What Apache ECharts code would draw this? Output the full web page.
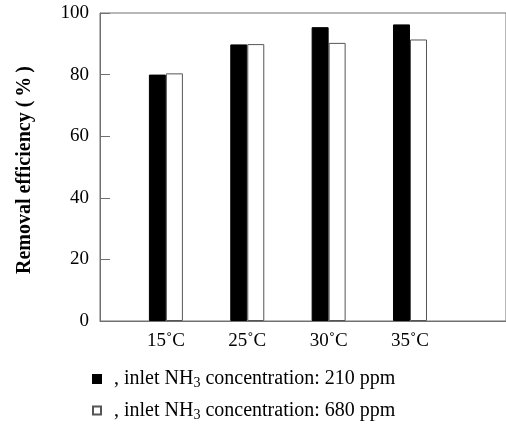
<!DOCTYPE html>
<html>
<head>
<meta charset="utf-8">
<script src="https://cdn.jsdelivr.net/npm/echarts@6/dist/echarts.min.js"></script>
<style>
  html, body { margin: 0; padding: 0; background: #fff; }
  #chart { width: 506px; height: 428px; }
</style>
</head>
<body>
<div id="chart"></div>
<script>
// temperatures on the x axis
const categories = ['15˚C', '25˚C', '30˚C', '35˚C']
// removal efficiency (%)
const low = [80.0, 89.8, 95.4, 96.3]   // inlet NH3 210 ppm
const high = [80.4, 89.9, 90.3, 91.4]  // inlet NH3 680 ppm
const yTicks = [0, 20, 40, 60, 80, 100]

const positions = categories.map((c, i) => i + 1)
const font = 'Liberation Serif'

const chart = echarts.init(document.getElementById('chart'))

const legendRich = {
  a: { fontFamily: font, fontSize: 20, color: '#000' },
  s: { fontFamily: font, fontSize: 14, color: '#000', padding: [9, 0, 0, 0] },
}

chart.setOption({
  animation: false,
  grid: {
    left: 100,
    right: -2,
    top: 13,
    bottom: 107,
    show: true,
    borderColor: '#707070',
    borderWidth: 1,
  },
  legend: {
    orient: 'vertical',
    left: 92,
    top: 368,
    padding: 0,
    itemWidth: 8,
    itemHeight: 8,
    itemGap: 9,
    icon: 'rect',
    data: ['210 ppm', '680 ppm'],
    textStyle: { lineHeight: 22, padding: [0, 0, 0, 8], rich: legendRich },
    formatter: (name) => '{a|, inlet NH}{s|3}{a| concentration: ' + name + '}',
  },
  xAxis: {
    type: 'value',
    min: 0.19,
    max: 5.18,
    splitLine: { show: false },
    axisLine: { show: true, lineStyle: { color: '#707070' } },
    axisTick: { show: false },
    axisLabel: {
      customValues: positions,
      formatter: (v) => categories[Math.round(v) - 1] || '',
      fontFamily: font,
      fontSize: 19,
      color: '#000',
      margin: 11,
    },
  },
  yAxis: {
    type: 'value',
    min: yTicks[0],
    max: yTicks[yTicks.length - 1],
    interval: 20,
    name: 'Removal efficiency (\u2009%\u2009)',
    nameLocation: 'middle',
    nameGap: 65,
    nameTextStyle: {
      fontFamily: font, fontSize: 20, fontWeight: 'bold', color: '#000',
      padding: [0, 6, 0, 0],
    },
    splitLine: { show: false },
    axisLine: { show: true, lineStyle: { color: '#707070' } },
    axisTick: { show: true, inside: true, length: 10, lineStyle: { color: '#707070' } },
    axisLabel: { fontFamily: font, fontSize: 19, color: '#000', margin: 11 },
  },
  series: [
    {
      name: '210 ppm',
      type: 'bar',
      barWidth: 17,
      barGap: '0%',
      data: positions.map((x, i) => [x, low[i]]),
      itemStyle: { color: '#000', borderColor: '#000', borderWidth: 1 },
    },
    {
      name: '680 ppm',
      type: 'bar',
      barWidth: 17,
      barGap: '0%',
      data: positions.map((x, i) => [x, high[i]]),
      itemStyle: { color: '#fff', borderColor: '#555', borderWidth: 1 },
    },
  ],
})

window.addEventListener('resize', () => chart.resize())
</script>
</body>
</html>
